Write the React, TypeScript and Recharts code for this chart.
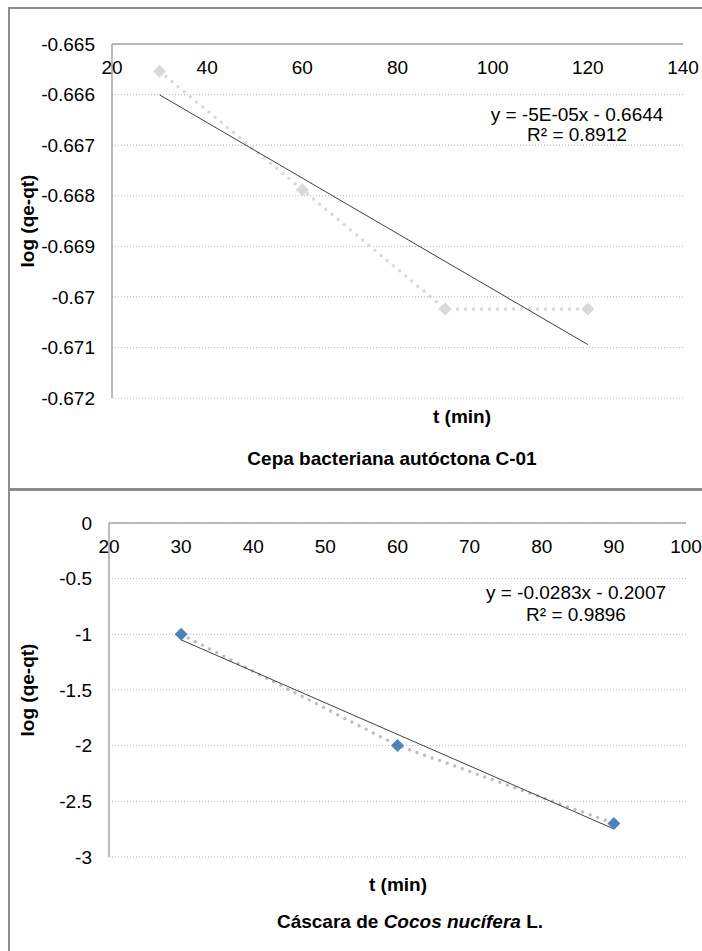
import { ComposedChart, Line, XAxis, YAxis, CartesianGrid } from 'recharts';

// Panel 1: Cepa bacteriana autóctona C-01
const cepaTimes = [30, 60, 90, 120];
const cepaLogValues = [-0.66554, -0.66788, -0.67024, -0.67024];
const cepaXTicks = [20, 40, 60, 80, 100, 120, 140];
const cepaYTicks = [-0.665, -0.666, -0.667, -0.668, -0.669, -0.67, -0.671, -0.672];

// Panel 2: Cáscara de Cocos nucífera L.
const cocosTimes = [30, 60, 90];
const cocosLogValues = [-1.0, -1.998, -2.698];
const cocosXTicks = [20, 30, 40, 50, 60, 70, 80, 90, 100];
const cocosYTicks = [0, -0.5, -1, -1.5, -2, -2.5, -3];

const FONT = '"Liberation Sans", Arial, sans-serif';
const FS = 19;
const AXIS_GRAY = '#a6a6a6';
const FRAME_GRAY = '#8c8c8c';

function linearFit(xs: number[], ys: number[]) {
  const n = xs.length;
  const mx = xs.reduce((a, b) => a + b, 0) / n;
  const my = ys.reduce((a, b) => a + b, 0) / n;
  let sxy = 0;
  let sxx = 0;
  xs.forEach((x, i) => {
    sxy += (x - mx) * (ys[i] - my);
    sxx += (x - mx) * (x - mx);
  });
  const slope = sxy / sxx;
  return { slope, intercept: my - slope * mx };
}

function toPoints(xs: number[], ys: number[]) {
  return xs.map((x, i) => ({ x, y: ys[i] }));
}

function trendPoints(xs: number[], ys: number[]) {
  const { slope, intercept } = linearFit(xs, ys);
  const lo = Math.min(...xs);
  const hi = Math.max(...xs);
  return [lo, hi].map(x => ({ x, y: slope * x + intercept }));
}

const diamond = (color: string) => (props: any) => {
  const { cx, cy, index } = props;
  if (cx == null || cy == null) return <g key={index} />;
  const r = 6.5;
  return (
    <polygon
      key={index}
      points={`${cx},${cy - r} ${cx + r},${cy} ${cx},${cy + r} ${cx - r},${cy}`}
      fill={color}
    />
  );
};

const topTick = (labelY: number) => (props: any) => (
  <text
    x={props.x}
    y={labelY}
    textAnchor="middle"
    dominantBaseline="central"
    fontSize={FS}
    fontFamily={FONT}
    fill="#000"
  >
    {props.payload.value}
  </text>
);

interface PanelProps {
  times: number[];
  values: number[];
  xTicks: number[];
  yTicks: number[];
  height: number;
  plotTop: number;
  yAxisWidth: number;
  marginRight: number;
  marginBottom: number;
  markerColor: string;
  dotColor: string;
}

function KineticsPanel(p: PanelProps) {
  const points = toPoints(p.times, p.values);
  const trend = trendPoints(p.times, p.values);
  return (
    <ComposedChart
      width={702}
      height={p.height}
      margin={{ top: 0, right: p.marginRight, bottom: p.marginBottom, left: 0 }}
    >
      <CartesianGrid vertical={false} stroke="#b8b8b8" strokeDasharray="1 2" />
      <XAxis
        type="number"
        dataKey="x"
        orientation="top"
        height={p.plotTop}
        domain={[p.xTicks[0], p.xTicks[p.xTicks.length - 1]]}
        ticks={p.xTicks}
        interval={0}
        tickLine={false}
        axisLine={{ stroke: AXIS_GRAY, strokeWidth: 1.5 }}
        tick={topTick(p.plotTop + 23)}
      />
      <YAxis
        type="number"
        dataKey="y"
        width={p.yAxisWidth}
        domain={[p.yTicks[p.yTicks.length - 1], p.yTicks[0]]}
        ticks={p.yTicks}
        interval={0}
        tickLine={false}
        tickSize={0}
        tickMargin={17}
        axisLine={{ stroke: AXIS_GRAY, strokeWidth: 1.5 }}
        tick={{ fill: '#000', fontSize: FS, fontFamily: FONT }}
        label={{
          value: 'log (qe-qt)',
          angle: -90,
          position: 'insideLeft',
          offset: 27,
          style: { textAnchor: 'middle', fontSize: FS, fontWeight: 'bold', fontFamily: FONT, fill: '#000' },
        }}
      />
      <Line
        data={points}
        dataKey="y"
        type="linear"
        stroke={p.dotColor}
        strokeWidth={3.5}
        strokeDasharray="0 8"
        strokeLinecap="round"
        dot={diamond(p.markerColor)}
        activeDot={false}
        isAnimationActive={false}
      />
      <Line
        data={trend}
        dataKey="y"
        type="linear"
        stroke="#404040"
        strokeWidth={1}
        dot={false}
        activeDot={false}
        isAnimationActive={false}
      />
    </ComposedChart>
  );
}

const textBase: React.CSSProperties = {
  position: 'absolute',
  fontFamily: FONT,
  color: '#000',
  whiteSpace: 'nowrap',
  textAlign: 'center',
  fontSize: FS,
};

export default function App() {
  return (
    <div style={{ position: 'absolute', left: 0, top: 0, width: 702, height: 951, background: '#fff', overflow: 'hidden' }}>
      {/* frame */}
      <div style={{ position: 'absolute', left: 8, top: 7, width: 2, height: 944, background: FRAME_GRAY }} />
      <div style={{ position: 'absolute', left: 8, top: 7, width: 694, height: 2, background: FRAME_GRAY }} />
      <div style={{ position: 'absolute', left: 8, top: 488, width: 694, height: 3, background: FRAME_GRAY }} />

      <div style={{ position: 'absolute', left: 0, top: 0 }}>
        <KineticsPanel
          times={cepaTimes}
          values={cepaLogValues}
          xTicks={cepaXTicks}
          yTicks={cepaYTicks}
          height={488}
          plotTop={44}
          yAxisWidth={112}
          marginRight={19}
          marginBottom={90}
          markerColor="#d9d9d9"
          dotColor="#d9d9d9"
        />
      </div>
      <div style={{ ...textBase, left: 427, width: 300, top: 105, lineHeight: '20px' }}>
        y = -5E-05x - 0.6644
        <br />
        R² = 0.8912
      </div>
      <div style={{ ...textBase, left: 312, width: 300, top: 405, fontWeight: 'bold', lineHeight: '24px' }}>
        t (min)
      </div>
      <div style={{ ...textBase, left: 242, width: 300, top: 447, fontWeight: 'bold', lineHeight: '24px' }}>
        Cepa bacteriana autóctona C-01
      </div>

      <div style={{ position: 'absolute', left: 0, top: 490 }}>
        <KineticsPanel
          times={cocosTimes}
          values={cocosLogValues}
          xTicks={cocosXTicks}
          yTicks={cocosYTicks}
          height={461}
          plotTop={33}
          yAxisWidth={109}
          marginRight={16}
          marginBottom={94}
          markerColor="#4f81bd"
          dotColor="#bfbfbf"
        />
      </div>
      <div style={{ ...textBase, left: 426, width: 300, top: 582, lineHeight: '22px' }}>
        y = -0.0283x - 0.2007
        <br />
        R² = 0.9896
      </div>
      <div style={{ ...textBase, left: 248, width: 300, top: 873, fontWeight: 'bold', lineHeight: '24px' }}>
        t (min)
      </div>
      <div style={{ ...textBase, left: 260, width: 300, top: 910, fontWeight: 'bold', lineHeight: '24px' }}>
        Cáscara de <i>Cocos nucífera</i> L.
      </div>
    </div>
  );
}
